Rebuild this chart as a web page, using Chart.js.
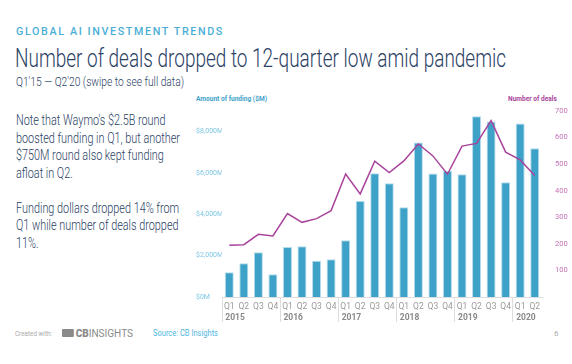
<!DOCTYPE html>
<html>
<head>
<meta charset="utf-8">
<script src="https://cdn.jsdelivr.net/npm/chart.js@4"></script>
<style>
  body { margin: 0; width: 572px; height: 364px; background: #fff; font-family: Roboto, sans-serif; position: relative; overflow: hidden; }
  .t { position: absolute; white-space: nowrap; transform-origin: 0 0; }
  #kicker { left: 16px; top: 25px; font-size: 10.5px; font-weight: 500; letter-spacing: 1.6px; color: #4aaed6; }
  #title { left: 15px; top: 44px; font-size: 25px; font-weight: 300; color: #2b4265; }
  #sub { left: 16px; top: 75px; font-size: 12px; font-weight: 300; color: #2b4265; }
  #note { left: 16px; top: 112px; font-size: 15px; font-weight: 300; line-height: 17.5px; color: #2b4265; }
  #lt { left: 196px; top: 94px; font-size: 8px; font-weight: 700; color: #3ea2c8; }
  #rt { left: 508px; top: 94px; font-size: 8px; font-weight: 700; color: #a8449b; }
  #foot1 { left: 15px; top: 329px; font-size: 8px; color: #aaa; }
  #logo { left: 62px; top: 327px; font-size: 11px; color: #8a8a8a; }
  #logo b { font-weight: 900; }
  #logo i { display: inline-block; width: 13px; height: 8px; background: #8a8a8a; border-radius: 1px; margin-right: 2px; }
  #src { left: 153px; top: 328px; font-size: 9px; color: #4db6e0; }
  #pg { left: 554px; top: 329px; font-size: 8px; color: #aaa; }
  #wrap { position: absolute; left: 190px; top: 100px; width: 382px; height: 235px; }
</style>
</head>
<body>
<div class="t" id="kicker" data-w="208">GLOBAL AI INVESTMENT TRENDS</div>
<div class="t" id="title" data-w="491">Number of deals dropped to 12-quarter low amid pandemic</div>
<div class="t" id="sub" data-w="168">Q1'15 — Q2'20 (swipe to see full data)</div>
<div class="t" id="note" data-w="164">Note that Waymo's $2.5B round<br>boosted funding in Q1, but another<br>$750M round also kept funding<br>afloat in Q2.<br><br>Funding dollars dropped 14% from<br>Q1 while number of deals dropped<br>11%.</div>
<div class="t" id="lt" data-w="71">Amount of funding ($M)</div>
<div class="t" id="rt" data-w="49">Number of deals</div>
<div class="t" id="foot1" data-w="37">Created with:</div>
<div class="t" id="logo" data-w="71"><i></i><b>CB</b>INSIGHTS</div>
<div class="t" id="src" data-w="65">Source: CB Insights</div>
<div class="t" id="pg">6</div>
<div id="wrap"><canvas id="c"></canvas></div>
<script>
const quarters = ["Q1","Q2","Q3","Q4","Q1","Q2","Q3","Q4","Q1","Q2","Q3","Q4","Q1","Q2","Q3","Q4","Q1","Q2","Q3","Q4","Q1","Q2"];
const years = ["2015","","","","2016","","","","2017","","","","2018","","","","2019","","","","2020",""];
const funding = [1200,1630,2160,1100,2420,2450,1760,1830,2750,4650,5990,5510,4340,7470,5970,6110,5940,8750,8490,5550,8390,7200];
const deals = [195,197,236,230,314,281,295,325,463,388,511,468,512,576,531,462,568,578,664,545,516,457];
const fundingTicks = [0,2000,4000,6000,8000];

// squeeze text to the condensed widths of the original
function fitText() {
  document.querySelectorAll("[data-w]").forEach((el) => {
    el.style.transform = "none";
    const w = el.getBoundingClientRect().width;
    el.style.transform = "scaleX(" + el.dataset.w / w + ")";
  });
}
fitText();
if (document.fonts) document.fonts.ready.then(fitText);

function money(v) {
  return "$" + String(v).replace(/\B(?=(\d{3})+(?!\d))/g, ",") + "M";
}

const ctx = document.getElementById("c").getContext("2d");

new Chart(ctx, {
  type: "bar",
  data: {
    labels: quarters,
    datasets: [
      {
        type: "line",
        label: "Number of deals",
        data: deals,
        yAxisID: "y1",
        borderColor: "#a8449b",
        borderWidth: 1.5,
        pointRadius: 0,
        tension: 0,
        order: 0,
      },
      {
        label: "Amount of funding ($M)",
        data: funding,
        yAxisID: "y",
        backgroundColor: "#3ea2c8",
        borderColor: "#b3dcec",
        borderWidth: 1,
        barPercentage: 0.62,
        categoryPercentage: 1,
        order: 1,
      },
    ],
  },
  options: {
    responsive: true,
    maintainAspectRatio: false,
    animation: false,
    layout: { padding: { left: 6, top: 11, right: 0, bottom: 0 } },
    plugins: {
      legend: { display: false },
      tooltip: { enabled: false },
    },
    scales: {
      x: {
        weight: 0,
        border: { color: "#dddddd" },
        grid: {
          drawOnChartArea: false,
          tickLength: 25,
          color: (c) => (c.index % 4 === 0 ? "#dddddd" : "rgba(0,0,0,0)"),
        },
        ticks: {
          autoSkip: false,
          maxRotation: 0,
          padding: -20,
          color: "#9a9a9a",
          font: { family: "Roboto", size: 8.5 },
        },
        afterFit: (s) => { s.height = 14; },
      },
      x2: {
        type: "category",
        labels: years,
        position: "bottom",
        weight: 1,
        border: { display: false },
        grid: { display: false },
        ticks: {
          autoSkip: false,
          maxRotation: 0,
          align: "start",
          labelOffset: -4,
          padding: -6,
          color: "#888888",
          font: { family: "Roboto", size: 8.5, weight: "bold" },
        },
        afterFit: (s) => { s.height = 24; },
      },
      y: {
        position: "left",
        min: 0,
        max: 9000,
        border: { display: false },
        grid: { display: false },
        afterBuildTicks: (s) => { s.ticks = fundingTicks.map((v) => ({ value: v })); },
        ticks: {
          autoSkip: false,
          crossAlign: "far",
          color: "#7fc7e3",
          font: { family: "Roboto", size: 7 },
          callback: (v) => money(v),
        },
        afterFit: (s) => { s.width = 26; },
      },
      y1: {
        position: "right",
        min: 0,
        max: 700,
        border: { display: false },
        grid: { display: false },
        ticks: {
          stepSize: 100,
          padding: 5,
          color: "#c373b8",
          font: { family: "Roboto", size: 7.5 },
          callback: (v) => (v === 0 ? "" : v),
        },
        afterFit: (s) => { s.width = 30; },
      },
    },
  },
});
</script>
</body>
</html>
